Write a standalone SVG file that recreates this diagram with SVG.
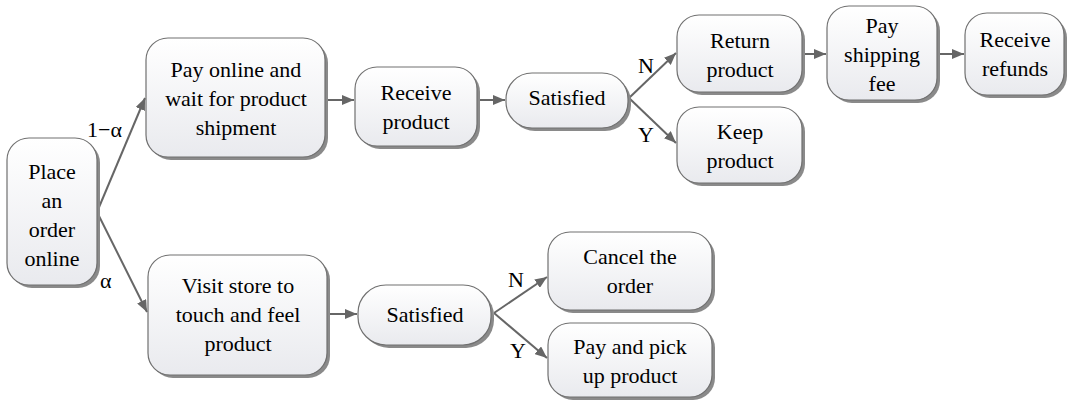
<svg xmlns="http://www.w3.org/2000/svg" width="1070" height="405" viewBox="0 0 1070 405">
<defs>
<linearGradient id="g" x1="0" y1="0" x2="0" y2="1">
<stop offset="0" stop-color="#ffffff"/>
<stop offset="1" stop-color="#e9eaee"/>
</linearGradient>
<marker id="ah" viewBox="0 0 12 10" refX="12" refY="5" markerWidth="12" markerHeight="10" markerUnits="userSpaceOnUse" orient="auto">
<path d="M0,0 L12,5 L0,10 z" fill="#666"/>
</marker>
</defs>
<g id="connectors" stroke="#666" stroke-width="2" fill="none" marker-end="url(#ah)">
<line x1="97" y1="212" x2="145" y2="98"/>
<line x1="97" y1="212" x2="147" y2="312"/>
<line x1="325" y1="100" x2="354" y2="100"/>
<line x1="477" y1="100" x2="505" y2="100"/>
<line x1="629" y1="98" x2="676" y2="53"/>
<line x1="629" y1="98" x2="676" y2="143"/>
<line x1="802" y1="54" x2="826" y2="54"/>
<line x1="937" y1="54" x2="964" y2="54"/>
<line x1="327" y1="314" x2="357" y2="314"/>
<line x1="494" y1="313" x2="547" y2="277"/>
<line x1="494" y1="313" x2="547" y2="358"/>
</g>
<g id="labels">
<text x="87" y="137" font-family="Liberation Serif" font-size="22">1−α</text>
<text x="100" y="288" font-family="Liberation Serif" font-size="22">α</text>
<text x="638" y="73" font-family="Liberation Serif" font-size="22">N</text>
<text x="638" y="142" font-family="Liberation Serif" font-size="22">Y</text>
<text x="508" y="287" font-family="Liberation Serif" font-size="22">N</text>
<text x="510" y="358" font-family="Liberation Serif" font-size="22">Y</text>
</g>
<g id="place">
<rect x="10" y="141" width="90" height="147" rx="22" fill="#8a8a8a"/>
<rect x="7" y="138" width="90" height="147" rx="22" fill="url(#g)" stroke="#707070" stroke-width="1.2"/>
<text x="52" y="179" font-family="Liberation Serif" font-size="22" text-anchor="middle">Place</text>
<text x="52" y="208" font-family="Liberation Serif" font-size="22" text-anchor="middle">an</text>
<text x="52" y="237" font-family="Liberation Serif" font-size="22" text-anchor="middle">order</text>
<text x="52" y="266" font-family="Liberation Serif" font-size="22" text-anchor="middle">online</text>
</g>
<g id="payonline">
<rect x="149" y="41" width="179" height="119" rx="22" fill="#8a8a8a"/>
<rect x="146" y="38" width="179" height="119" rx="22" fill="url(#g)" stroke="#707070" stroke-width="1.2"/>
<text x="236" y="77" font-family="Liberation Serif" font-size="22" text-anchor="middle">Pay online and</text>
<text x="236" y="106" font-family="Liberation Serif" font-size="22" text-anchor="middle">wait for product</text>
<text x="236" y="135" font-family="Liberation Serif" font-size="22" text-anchor="middle">shipment</text>
</g>
<g id="receive">
<rect x="358" y="70" width="122" height="79" rx="22" fill="#8a8a8a"/>
<rect x="355" y="67" width="122" height="79" rx="22" fill="url(#g)" stroke="#707070" stroke-width="1.2"/>
<text x="416" y="100" font-family="Liberation Serif" font-size="22" text-anchor="middle">Receive</text>
<text x="416" y="129" font-family="Liberation Serif" font-size="22" text-anchor="middle">product</text>
</g>
<g id="satisfied1">
<rect x="509" y="76" width="122" height="55" rx="26" fill="#8a8a8a"/>
<rect x="506" y="73" width="122" height="55" rx="26" fill="url(#g)" stroke="#707070" stroke-width="1.2"/>
<text x="567" y="105" font-family="Liberation Serif" font-size="22" text-anchor="middle">Satisfied</text>
</g>
<g id="return">
<rect x="680" y="18" width="125" height="77" rx="22" fill="#8a8a8a"/>
<rect x="677" y="15" width="125" height="77" rx="22" fill="url(#g)" stroke="#707070" stroke-width="1.2"/>
<text x="740" y="48" font-family="Liberation Serif" font-size="22" text-anchor="middle">Return</text>
<text x="740" y="77" font-family="Liberation Serif" font-size="22" text-anchor="middle">product</text>
</g>
<g id="keep">
<rect x="680" y="110" width="125" height="76" rx="22" fill="#8a8a8a"/>
<rect x="677" y="107" width="125" height="76" rx="22" fill="url(#g)" stroke="#707070" stroke-width="1.2"/>
<text x="740" y="139" font-family="Liberation Serif" font-size="22" text-anchor="middle">Keep</text>
<text x="740" y="168" font-family="Liberation Serif" font-size="22" text-anchor="middle">product</text>
</g>
<g id="shipping">
<rect x="830" y="9" width="110" height="94" rx="22" fill="#8a8a8a"/>
<rect x="827" y="6" width="110" height="94" rx="22" fill="url(#g)" stroke="#707070" stroke-width="1.2"/>
<text x="882" y="33" font-family="Liberation Serif" font-size="22" text-anchor="middle">Pay</text>
<text x="882" y="62" font-family="Liberation Serif" font-size="22" text-anchor="middle">shipping</text>
<text x="882" y="91" font-family="Liberation Serif" font-size="22" text-anchor="middle">fee</text>
</g>
<g id="refunds">
<rect x="968" y="16" width="99" height="82" rx="22" fill="#8a8a8a"/>
<rect x="965" y="13" width="99" height="82" rx="22" fill="url(#g)" stroke="#707070" stroke-width="1.2"/>
<text x="1015" y="47" font-family="Liberation Serif" font-size="22" text-anchor="middle">Receive</text>
<text x="1015" y="76" font-family="Liberation Serif" font-size="22" text-anchor="middle">refunds</text>
</g>
<g id="visit">
<rect x="151" y="258" width="179" height="120" rx="22" fill="#8a8a8a"/>
<rect x="148" y="255" width="179" height="120" rx="22" fill="url(#g)" stroke="#707070" stroke-width="1.2"/>
<text x="238" y="293" font-family="Liberation Serif" font-size="22" text-anchor="middle">Visit store to</text>
<text x="238" y="322" font-family="Liberation Serif" font-size="22" text-anchor="middle">touch and feel</text>
<text x="238" y="351" font-family="Liberation Serif" font-size="22" text-anchor="middle">product</text>
</g>
<g id="satisfied2">
<rect x="361" y="288" width="133" height="60" rx="28" fill="#8a8a8a"/>
<rect x="358" y="285" width="133" height="60" rx="28" fill="url(#g)" stroke="#707070" stroke-width="1.2"/>
<text x="425" y="322" font-family="Liberation Serif" font-size="22" text-anchor="middle">Satisfied</text>
</g>
<g id="cancel">
<rect x="551" y="235" width="164" height="78" rx="22" fill="#8a8a8a"/>
<rect x="548" y="232" width="164" height="78" rx="22" fill="url(#g)" stroke="#707070" stroke-width="1.2"/>
<text x="630" y="264" font-family="Liberation Serif" font-size="22" text-anchor="middle">Cancel the</text>
<text x="630" y="293" font-family="Liberation Serif" font-size="22" text-anchor="middle">order</text>
</g>
<g id="paypick">
<rect x="551" y="326" width="164" height="74" rx="22" fill="#8a8a8a"/>
<rect x="548" y="323" width="164" height="74" rx="22" fill="url(#g)" stroke="#707070" stroke-width="1.2"/>
<text x="630" y="354" font-family="Liberation Serif" font-size="22" text-anchor="middle">Pay and pick</text>
<text x="630" y="383" font-family="Liberation Serif" font-size="22" text-anchor="middle">up product</text>
</g>
</svg>
